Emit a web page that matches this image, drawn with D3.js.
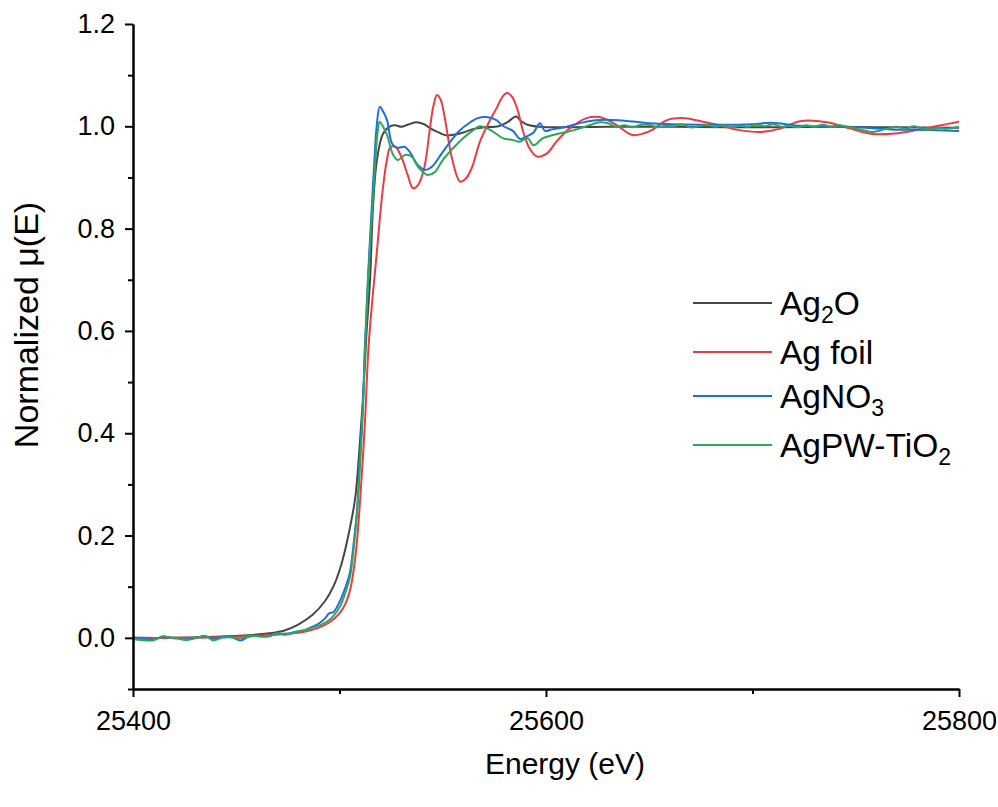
<!DOCTYPE html>
<html>
<head>
<meta charset="utf-8">
<script src="https://cdn.jsdelivr.net/npm/d3@7"></script>
<style>
  html, body { margin: 0; padding: 0; background: #fff; }
  svg { display: block; font-family: "Liberation Sans", Arial, sans-serif; }
</style>
</head>
<body>
<svg id="chart" width="998" height="807"></svg>
<script>
// ---- data ----
const seriesNames = ["Ag2O", "Ag foil", "AgNO3", "AgPW-TiO2"];
const seriesColors = ["#474747", "#ee3b40", "#1d6fde", "#2fa65e"];

const ag2oE  = [25400,25420,25440,25456,25466,25473,25480,25487,25493,25497,25501,25504,25507.5,25509.5,25511.4,25513,25514.8,25516.2,25518,25521,25524.5,25527,25530,25533,25537,25541,25544,25548,25552,25556,25560,25565,25570,25577,25581,25585.5,25588,25591,25597,25610,25630,25660,25700,25740,25770,25800];
const ag2oMu = [0,0,0.002,0.005,0.009,0.014,0.026,0.045,0.072,0.10,0.145,0.195,0.27,0.36,0.47,0.59,0.70,0.84,0.93,0.985,1.0,1.002,0.999,1.003,1.008,1.004,0.996,0.988,0.982,0.984,0.988,0.995,0.998,1.0,1.007,1.019,1.01,1.003,0.999,0.998,0.999,0.999,0.998,0.999,0.998,0.997];

const foilE  = [25400,25420,25440,25455,25465,25475,25483,25490,25495,25500,25503,25505.5,25508,25510,25512.3,25514,25516,25518,25520,25521.5,25523,25524.5,25527,25530,25533,25535.6,25538,25541,25543.8,25545.5,25547.2,25549,25551,25554.5,25558.4,25561,25564,25568,25572,25576,25579,25581,25583.5,25586,25589,25592,25595.6,25600.5,25605,25611.5,25619.6,25626,25634,25642,25650,25658.6,25666,25675,25683,25693,25704,25713,25723,25736,25747,25758,25769,25780,25790,25800];
const foilMu = [0,0,0.001,0.003,0.005,0.008,0.012,0.02,0.03,0.048,0.068,0.10,0.17,0.27,0.42,0.565,0.665,0.75,0.84,0.895,0.935,0.958,0.96,0.94,0.905,0.879,0.885,0.918,0.996,1.04,1.061,1.052,1.016,0.937,0.892,0.897,0.918,0.970,1.005,1.035,1.058,1.065,1.058,1.035,0.989,0.957,0.941,0.947,0.970,0.996,1.016,1.018,1.003,0.983,0.99,1.012,1.016,1.01,1.003,0.993,0.989,0.995,1.010,1.008,0.996,0.985,0.986,0.993,1.001,1.009];

const nitrE  = [25400,25405,25410,25415,25421,25426,25431,25435,25439,25444,25448,25452,25456,25460,25465,25470,25475,25479,25483,25487,25490,25493,25495,25497,25500,25503,25505,25507,25508.5,25510,25511.4,25512.3,25514,25516,25517,25518,25519.5,25521,25523,25525.5,25528,25531.5,25534,25538,25541.5,25545,25549,25553.5,25558,25563,25567,25571,25576,25579,25584,25587.5,25591,25594,25597,25599.5,25603,25610,25616,25624,25635,25650,25675,25700,25709,25723,25746,25767,25787,25800];
const nitrMu = [0,-0.002,-0.003,0.002,-0.001,-0.003,0.001,0.003,-0.002,0.002,0.001,-0.005,0.002,0.004,0.003,0.008,0.008,0.012,0.015,0.022,0.028,0.038,0.048,0.05,0.07,0.10,0.127,0.19,0.25,0.36,0.465,0.57,0.72,0.87,0.94,1.0,1.038,1.03,1.012,0.966,0.958,0.960,0.950,0.924,0.915,0.922,0.944,0.969,0.991,1.007,1.016,1.018,1.012,1.001,0.991,0.975,0.981,0.988,1.006,0.991,0.994,0.999,1.006,1.012,1.012,1.006,1.003,1.004,1.007,1.001,0.999,0.994,0.993,0.991];

const pwE  = [25400,25404,25409.7,25414.5,25418,25421,25426,25431,25435,25438.7,25443,25447,25451.8,25458,25462,25466,25469.7,25474,25479.4,25484,25487,25490.6,25494,25496.9,25500.2,25503,25505.1,25507,25508.5,25510,25511.4,25512.3,25514,25516.2,25517.5,25518.5,25519.5,25521,25523,25526,25528.3,25531.7,25535,25538,25542.5,25546,25550,25555,25560,25564,25568,25573,25579,25584,25587.4,25591,25594,25598.5,25603.4,25610,25616.5,25621,25626,25630,25634,25638,25642,25646,25650,25654,25658,25662,25666,25670,25674,25678,25682,25686,25690,25694,25698,25702,25706,25710,25714,25718,25722,25726,25730,25734,25738,25742,25746,25750,25754,25758,25762,25766,25770,25774,25778,25782,25786,25790,25794,25800];
const pwMu = [-0.002,-0.004,-0.005,0.003,0.0,-0.001,-0.004,0.0,0.004,-0.005,0.0,0.001,-0.001,0.004,0.002,0.003,0.009,0.006,0.012,0.016,0.02,0.025,0.032,0.042,0.061,0.09,0.119,0.18,0.244,0.34,0.45,0.56,0.71,0.86,0.94,0.99,1.009,1.0,0.983,0.944,0.934,0.944,0.941,0.921,0.905,0.910,0.934,0.957,0.977,0.99,1.0,0.993,0.977,0.973,0.970,0.977,0.963,0.977,0.983,0.989,0.996,1.002,1.008,1.006,0.999,1.002,0.998,1.003,1.003,0.998,1.001,1.0,1.004,0.998,1.0,1.003,0.999,1.002,0.998,1.001,0.999,1.003,1.0,1.004,0.999,1.001,0.998,1.002,0.999,1.003,0.999,1.002,0.999,0.996,0.992,0.989,0.992,0.996,0.999,0.995,1.0,0.996,0.994,0.997,0.995,0.999];

const xTicks = [25400, 25600, 25800];
const xMinorTicks = [25500, 25700];
const yTicks = [0.0, 0.2, 0.4, 0.6, 0.8, 1.0, 1.2];
const yMinorTicks = [-0.1, 0.1, 0.3, 0.5, 0.7, 0.9, 1.1];

const series = [
  {name: seriesNames[0], E: ag2oE, mu: ag2oMu, color: seriesColors[0]},
  {name: seriesNames[1], E: foilE, mu: foilMu, color: seriesColors[1]},
  {name: seriesNames[2], E: nitrE, mu: nitrMu, color: seriesColors[2]},
  {name: seriesNames[3], E: pwE,   mu: pwMu,   color: seriesColors[3]}
];

// ---- layout ----
const svg = d3.select("#chart");
const pL = 133, pR = 959, pT = 24, pB = 689;

const x = d3.scaleLinear().domain([25400, 25800]).range([pL, pR]);
const y = d3.scaleLinear().domain([-0.1, 1.2]).range([pB, pT]);

svg.append("defs").append("clipPath").attr("id", "clip")
  .append("rect").attr("x", pL).attr("y", pT).attr("width", pR - pL).attr("height", pB - pT);

// lines
const line = d3.line().curve(d3.curveCatmullRom.alpha(0.5));
const g = svg.append("g").attr("clip-path", "url(#clip)");
series.forEach(s => {
  const pts = s.E.map((e, i) => [x(e), y(s.mu[i])]);
  g.append("path")
    .attr("d", line(pts))
    .attr("fill", "none")
    .attr("stroke", s.color)
    .attr("stroke-width", 2)
    .attr("stroke-linejoin", "round");
});

// axes
const fmtY = d3.format(".1f");
const TICK_FS = 27;
const xAxis = d3.axisBottom(x).tickValues(xTicks).tickFormat(d3.format("d")).tickSizeOuter(0).tickSizeInner(8).tickPadding(14);
const xAxisMinor = d3.axisBottom(x).tickValues(xMinorTicks).tickFormat("").tickSizeOuter(0).tickSizeInner(5);
const yAxis = d3.axisLeft(y).tickValues(yTicks).tickFormat(fmtY).tickSizeOuter(0).tickSizeInner(8).tickPadding(10);
const yAxisMinor = d3.axisLeft(y).tickValues(yMinorTicks).tickFormat("").tickSizeOuter(0).tickSizeInner(5);

function styleAxis(sel, fs) {
  sel.select(".domain").attr("stroke", "#000").attr("stroke-width", 2);
  sel.selectAll(".tick line").attr("stroke", "#000").attr("stroke-width", 2);
  sel.selectAll(".tick text").attr("fill", "#000").style("font-size", fs + "px")
    .style("font-family", "'Liberation Sans', Arial, sans-serif");
}

const gxm = svg.append("g").attr("transform", `translate(0,${pB})`).call(xAxisMinor);
styleAxis(gxm, TICK_FS);
const gx = svg.append("g").attr("transform", `translate(0,${pB})`).call(xAxis);
styleAxis(gx, TICK_FS);
const gym = svg.append("g").attr("transform", `translate(${pL},0)`).call(yAxisMinor);
styleAxis(gym, TICK_FS);
const gy = svg.append("g").attr("transform", `translate(${pL},0)`).call(yAxis);
styleAxis(gy, TICK_FS);

// axis titles
svg.append("text")
  .attr("x", 565).attr("y", 774)
  .attr("text-anchor", "middle")
  .style("font-size", "30px").attr("fill", "#000")
  .text("Energy (eV)");

svg.append("text")
  .attr("transform", `translate(38,325) rotate(-90)`)
  .attr("text-anchor", "middle")
  .style("font-size", "34px").attr("fill", "#000")
  .text("Normalized \u03bc(E)");

// legend
const legendLabels = [
  [["Ag", null], ["2", "sub"], ["O", null]],
  [["Ag foil", null]],
  [["AgNO", null], ["3", "sub"]],
  [["AgPW-TiO", null], ["2", "sub"]]
];
const legendY = [303, 352, 396, 445];
const lg = svg.append("g");
series.forEach((s, i) => {
  lg.append("line")
    .attr("x1", 693).attr("x2", 772)
    .attr("y1", legendY[i]).attr("y2", legendY[i])
    .attr("stroke", s.color).attr("stroke-width", 2);
  const t = lg.append("text")
    .attr("x", 780).attr("y", legendY[i] + 12)
    .style("font-size", "33.5px").attr("fill", "#000");
  legendLabels[i].forEach(([txt, kind]) => {
    const sp = t.append("tspan").text(txt);
    if (kind === "sub") {
      sp.style("font-size", "23px").attr("dy", 8);
    } else if (t.selectAll("tspan").size() > 1) {
      sp.attr("dy", -8);
    }
  });
});
</script>
</body>
</html>
